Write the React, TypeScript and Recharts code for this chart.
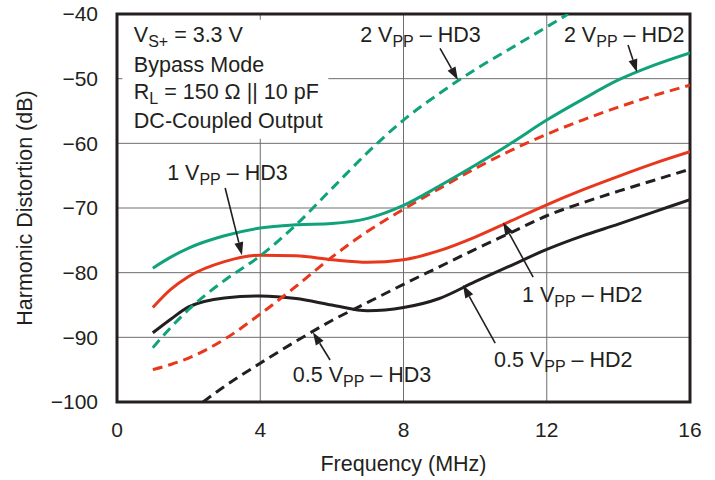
import { CartesianGrid, Line, LineChart, ReferenceArea, ReferenceDot, ReferenceLine, XAxis, YAxis } from "recharts";

const FONT = '"Liberation Sans", Arial, Helvetica, sans-serif';
const INK = "#231f20";
const GREEN = "#10a27b";
const RED = "#e8371c";

// frequency (MHz) and distortion (dB)
const FREQ = [1, 1.5, 2, 3, 4, 5, 6, 7, 8, 9, 10, 11, 12, 13, 14, 15, 16];
const hd2_2vpp = [-79.3, -77.6, -76.2, -74.3, -73.1, -72.6, -72.4, -71.6, -69.6, -66.6, -63.4, -60.0, -56.4, -53.2, -50.2, -47.9, -46.0];
const hd2_1vpp = [-95.0, -94.2, -93.2, -90.3, -86.4, -82.1, -77.6, -73.6, -70.2, -67.0, -63.9, -61.1, -58.6, -56.4, -54.4, -52.6, -51.0];
const hd3_1vpp = [-85.4, -82.6, -80.6, -78.3, -77.3, -77.4, -78.0, -78.4, -78.0, -76.6, -74.5, -72.0, -69.5, -67.2, -65.1, -63.1, -61.3];
const hd2_05vpp = [-89.3, -87.2, -85.3, -83.9, -83.6, -84.0, -85.0, -85.9, -85.4, -84.0, -81.4, -78.9, -76.4, -74.3, -72.5, -70.6, -68.7];

const FREQ_HD3_2VPP = [1, 1.5, 2, 3, 4, 5, 6, 7, 8, 9, 10, 11, 12, 12.6];
const hd3_2vpp = [-91.6, -88.5, -85.7, -81.2, -77.4, -72.6, -67.0, -61.4, -56.4, -52.3, -48.6, -45.3, -42.0, -40.0];

const FREQ_HD3_05VPP = [2.4, 3, 4, 5, 6, 7, 8, 9, 10, 11, 12, 13, 14, 15, 16];
const hd3_05vpp = [-100, -97.6, -94.0, -90.6, -87.4, -84.6, -81.8, -79.1, -76.4, -73.8, -71.2, -69.2, -67.4, -65.7, -64.0];

const X_TICKS = [0, 4, 8, 12, 16];
const Y_TICKS = [-100, -90, -80, -70, -60, -50, -40];

type Part = [string, boolean]; // [text, subscript]

const conditions: { f: number; db: number; parts: Part[] }[] = [
  { f: 0.47, db: -44.33, parts: [["V", false], ["S+", true], [" = 3.3 V", false]] },
  { f: 0.47, db: -48.97, parts: [["Bypass Mode", false]] },
  { f: 0.47, db: -53.14, parts: [["R", false], ["L", true], [" = 150 Ω || 10 pF", false]] },
  { f: 0.47, db: -57.63, parts: [["DC-Coupled Output", false]] },
];

const curveLabels: { f: number; db: number; parts: Part[] }[] = [
  { f: 6.79, db: -44.33, parts: [["2 V", false], ["PP", true], [" – HD3", false]] },
  { f: 12.48, db: -44.33, parts: [["2 V", false], ["PP", true], [" – HD2", false]] },
  { f: 1.4, db: -65.67, parts: [["1 V", false], ["PP", true], [" – HD3", false]] },
  { f: 11.31, db: -84.53, parts: [["1 V", false], ["PP", true], [" – HD2", false]] },
  { f: 10.53, db: -94.59, parts: [["0.5 V", false], ["PP", true], [" – HD2", false]] },
  { f: 4.91, db: -96.9, parts: [["0.5 V", false], ["PP", true], [" – HD3", false]] },
];

// arrows: from label to curve
const arrows = [
  { from: [9.02, -45.3], to: [9.52, -50.2] },
  { from: [14.27, -44.8], to: [14.52, -49.0] },
  { from: [3.02, -66.9], to: [3.49, -77.3] },
  { from: [11.62, -80.7], to: [10.78, -72.2] },
  { from: [10.56, -90.9], to: [9.66, -81.9] },
  { from: [5.95, -93.5], to: [5.47, -89.2] },
];

const toPoints = (fs: number[], vs: number[]) => fs.map((f, i) => ({ f, v: vs[i] }));

function NoteText({ cx, cy, parts }: { cx: number; cy: number; parts: Part[] }) {
  let shift = 0;
  return (
    <text x={cx} y={cy} fill={INK} fontSize={21.5} fontFamily={FONT}>
      {parts.map(([t, sub], i) => {
        const dy = sub ? 5 - shift : -shift;
        shift = sub ? 5 : 0;
        return (
          <tspan key={i} dy={dy} fontSize={sub ? 16 : 21.5} style={{ whiteSpace: "pre" }}>
            {t}
          </tspan>
        );
      })}
    </text>
  );
}

function Arrow(p: any) {
  const { x1, y1, x2, y2 } = p;
  const a = Math.atan2(y2 - y1, x2 - x1);
  const len = 13;
  const half = 4.5;
  const bx = x2 - len * Math.cos(a);
  const by = y2 - len * Math.sin(a);
  const nx = -Math.sin(a) * half;
  const ny = Math.cos(a) * half;
  return (
    <g>
      <line x1={x1} y1={y1} x2={bx} y2={by} stroke={INK} strokeWidth={1.6} />
      <polygon points={`${x2},${y2} ${bx + nx},${by + ny} ${bx - nx},${by - ny}`} fill={INK} />
    </g>
  );
}

const dash = "10 6";

export default function App() {
  const tick = { fill: INK, fontSize: 21, fontFamily: FONT };
  const fmt = (v: number) => (v < 0 ? `\u2212${Math.abs(v)}` : `${v}`);
  return (
    <div style={{ position: "absolute", left: 0, top: 0, background: "#fff" }}>
      <LineChart width={715} height={480} margin={{ top: 14, right: 25, bottom: 0, left: 0 }}>
        <CartesianGrid stroke="#6e6e6e" strokeWidth={1} />
        <XAxis
          type="number"
          dataKey="f"
          domain={[0, 16]}
          ticks={X_TICKS}
          allowDataOverflow
          height={78}
          axisLine={false}
          tickLine={false}
          tickSize={0}
          tickMargin={20}
          tick={tick}
          label={{ value: "Frequency (MHz)", position: "insideBottom", offset: 9, fill: INK, fontSize: 21.5, fontFamily: FONT }}
        />
        <YAxis
          type="number"
          domain={[-100, -40]}
          ticks={Y_TICKS}
          allowDataOverflow
          width={117}
          axisLine={false}
          tickLine={false}
          tickSize={0}
          tickMargin={19}
          tick={tick}
          tickFormatter={fmt}
          label={(props: any) => {
            const vb = props.viewBox;
            const x = vb.x + 25;
            const y = vb.y + vb.height / 2;
            return (
              <text x={x} y={y} transform={`rotate(-90 ${x} ${y})`} textAnchor="middle" dominantBaseline="central" fill={INK} fontSize={21.5} fontFamily={FONT}>
                Harmonic Distortion (dB)
              </text>
            );
          }}
        />
        <ReferenceArea x1={0.15} x2={5.9} y1={-59.3} y2={-40.9} fill="#fff" fillOpacity={1} stroke="none" />

        <Line data={toPoints(FREQ, hd2_05vpp)} dataKey="v" type="monotone" stroke={INK} strokeWidth={3} dot={false} isAnimationActive={false} />
        <Line data={toPoints(FREQ_HD3_05VPP, hd3_05vpp)} dataKey="v" type="monotone" stroke={INK} strokeWidth={3} strokeDasharray={dash} dot={false} isAnimationActive={false} />
        <Line data={toPoints(FREQ, hd3_1vpp)} dataKey="v" type="monotone" stroke={RED} strokeWidth={3} dot={false} isAnimationActive={false} />
        <Line data={toPoints(FREQ, hd2_1vpp)} dataKey="v" type="monotone" stroke={RED} strokeWidth={3} strokeDasharray={dash} dot={false} isAnimationActive={false} />
        <Line data={toPoints(FREQ_HD3_2VPP, hd3_2vpp)} dataKey="v" type="monotone" stroke={GREEN} strokeWidth={3} strokeDasharray={dash} dot={false} isAnimationActive={false} />
        <Line data={toPoints(FREQ, hd2_2vpp)} dataKey="v" type="monotone" stroke={GREEN} strokeWidth={3} dot={false} isAnimationActive={false} />

        <ReferenceArea x1={0} x2={16} y1={-100} y2={-40} fill="none" stroke={INK} strokeWidth={3} ifOverflow="visible" />

        {arrows.map((a, i) => (
          <ReferenceLine
            key={`a${i}`}
            segment={[{ x: a.from[0], y: a.from[1] }, { x: a.to[0], y: a.to[1] }]}
            shape={Arrow}
          />
        ))}
        {[...conditions, ...curveLabels].map((n, i) => (
          <ReferenceDot
            key={`n${i}`}
            x={n.f}
            y={n.db}
            r={0}
            shape={(p: any) => <NoteText cx={p.cx} cy={p.cy} parts={n.parts} />}
          />
        ))}
      </LineChart>
    </div>
  );
}
